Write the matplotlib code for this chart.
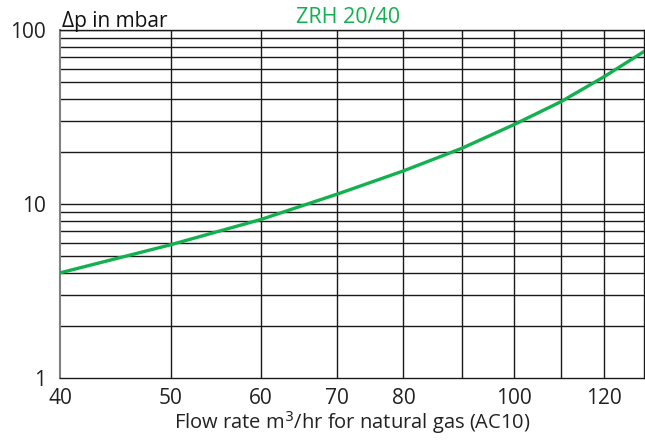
import matplotlib
matplotlib.use("Agg")
import matplotlib.pyplot as plt
from matplotlib.ticker import FixedLocator, NullFormatter, NullLocator

# values
flow = [40, 50, 60, 70, 80, 90, 100, 110, 120, 130]
dp = [4.02, 5.83, 8.15, 11.4, 15.5, 20.9, 28.6, 38.8, 54.0, 75.2]

x_ticks = [40, 50, 60, 70, 80, 90, 100, 110, 120]
x_labels = ["40", "50", "60", "70", "80", "", "100", "", "120"]
y_ticks = [1, 10, 100]
y_labels = ["1", "10", "100"]

green = "#13b04f"
plt.rcParams['font.family'] = ['Open Sans', 'DejaVu Sans']
fs = 15

fig = plt.figure(figsize=(6.45, 4.41), dpi=100)
ax = fig.add_axes([60 / 645, 1 - 378 / 441, 584 / 645, 348 / 441])

ax.set_xscale("log")
ax.set_yscale("log")
ax.set_xlim(40, 130)
ax.set_ylim(1, 100)

# grid lines: every minor decade step vertically, every 10 horizontally
h_lines = [v * m for m in (1, 10) for v in range(2, 10)] + [10, 100]
for h in h_lines:
    ax.axhline(h, color="#1a1a1a", lw=1.0, zorder=1)
for v in x_ticks[1:]:
    ax.axvline(v, color="#1a1a1a", lw=1.0, zorder=1)

ax.plot(flow, dp, color=green, lw=2.4, zorder=3)

ax.xaxis.set_major_locator(FixedLocator(x_ticks))
ax.set_xticklabels(x_labels)
ax.xaxis.set_minor_locator(NullLocator())
ax.xaxis.set_minor_formatter(NullFormatter())
ax.yaxis.set_major_locator(FixedLocator(y_ticks))
ax.set_yticklabels(y_labels)
ax.yaxis.set_minor_locator(NullLocator())
ax.yaxis.set_minor_formatter(NullFormatter())
ax.tick_params(axis="both", length=0, labelsize=fs, colors="#222222")
ax.tick_params(axis="x", pad=7)
ax.tick_params(axis="y", pad=10)

for side in ["top", "right", "bottom"]:
    ax.spines[side].set_color("#1a1a1a")
    ax.spines[side].set_linewidth(1.0)
ax.spines["left"].set_color("#808080")
ax.spines["left"].set_linewidth(1.5)

ax.set_xlabel("Flow rate m$^3$/hr for natural gas (AC10)", fontsize=14.5,
              color="#222222", labelpad=0)
fig.text(62 / 645, 1 - 27 / 441, "Δp in mbar", fontsize=fs, color="#111111",
         ha="left", va="baseline")
fig.text(348 / 645, 1 - 23 / 441, "ZRH 20/40", fontsize=fs + 0.5, color=green,
         ha="center", va="baseline")

fig.savefig("out.png", dpi=100)
